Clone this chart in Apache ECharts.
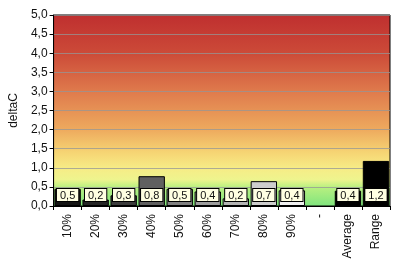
<!DOCTYPE html>
<html><head><meta charset="utf-8">
<script src="https://cdn.jsdelivr.net/npm/echarts@6/dist/echarts.min.js"></script>
<style>html,body{margin:0;padding:0;background:#fff}#c{width:397px;height:265px}</style>
</head><body><div id="c"></div>
<script>
var categories = ['10%','20%','30%','40%','50%','60%','70%','80%','90%','-','Average','Range'];
var barValues = [0.45, 0.17, 0.28, 0.78, 0.45, 0.38, 0.2, 0.65, 0.41, null, 0.4, 1.18];
var labelTexts = ['0,5','0,2','0,3','0,8','0,5','0,4','0,2','0,7','0,4','','0,4','1,2'];
var barColors = ['#141414','#262626','#3c3c3c','#606060','#808080','#9c9c9c','#b4b4b4','#cdcdcd','#efefef','#000','#000000','#000000'];

var chart = echarts.init(document.getElementById('c'));
var data = barValues.map(function(v,i){
  return {value: v, itemStyle:{color: barColors[i]}, label:{formatter: labelTexts[i]}};
});
chart.setOption({
  animation:false,
  textStyle:{fontFamily:'Liberation Sans, Arial, sans-serif'},
  grid:{left:50,right:7,top:15,bottom:59,show:true,borderColor:'#000',borderWidth:1,
    backgroundColor:{type:'linear',x:0,y:0,x2:0,y2:1,colorStops:[
      {offset:0,color:'#bf2f2f'},
      {offset:0.2,color:'#cc4a38'},
      {offset:0.4,color:'#df7a4c'},
      {offset:0.6,color:'#eeaa5e'},
      {offset:0.72,color:'#f6d574'},
      {offset:0.8,color:'#f7ec86'},
      {offset:0.86,color:'#eef48e'},
      {offset:0.9,color:'#b8f080'},
      {offset:1,color:'#7ee47e'}]}},
  xAxis:{type:'category',data:categories,
    axisLine:{lineStyle:{color:'#000',width:1}},
    axisTick:{show:true,length:4,lineStyle:{color:'#000'}},
    axisLabel:{rotate:90,color:'#111',fontSize:12,margin:8,interval:0}},
  yAxis:{type:'value',min:0,max:5,interval:0.5,name:'deltaC',nameLocation:'middle',nameGap:24,
    nameTextStyle:{color:'#111',fontSize:12},
    axisLine:{show:true,lineStyle:{color:'#000',width:1}},
    axisTick:{show:true,length:4,lineStyle:{color:'#000'}},
    axisLabel:{color:'#111',fontSize:12,margin:6,formatter:function(v){return v.toFixed(1).replace('.',',');}},
    splitLine:{lineStyle:{color:'rgba(150,150,150,0.75)',width:1}}},
  series:[{type:'bar',data:data,barCategoryGap:'6%',
    itemStyle:{borderColor:'#000',borderWidth:1},
    label:{show:true,position:'insideBottom',distance:5,color:'#111',fontSize:11,
      backgroundColor:'#ffffe2',borderColor:'#000',borderWidth:1,padding:[1,3,0,3]}}]
});
</script></body></html>
